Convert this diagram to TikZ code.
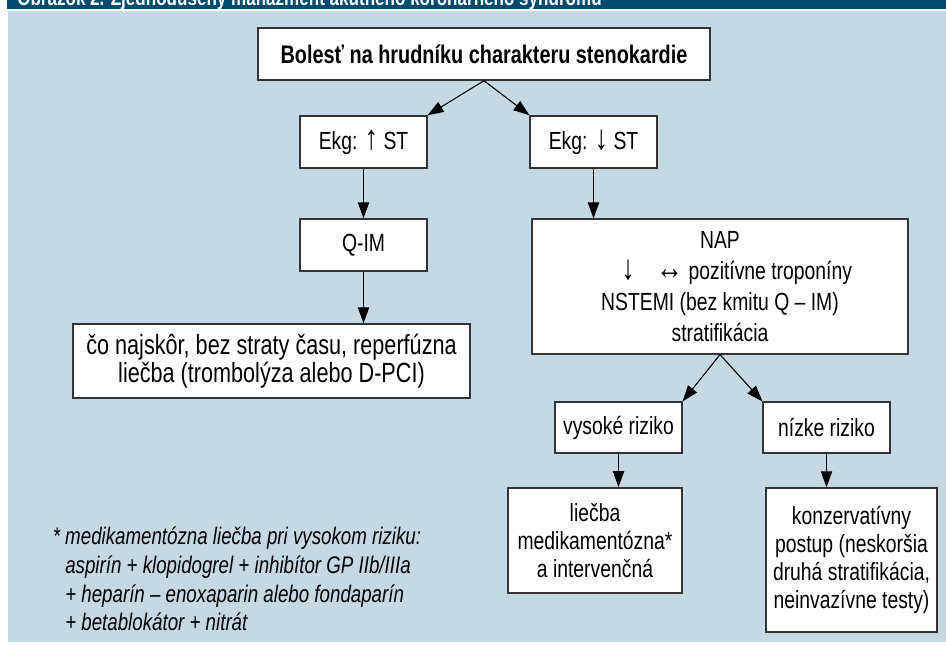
\documentclass[tikz,border=0pt]{standalone}
\usepackage{fontspec}
\setmainfont[FakeStretch=0.78]{Liberation Sans}
\usepackage{xcolor}
\usetikzlibrary{arrows.meta}

\definecolor{pasmo}{RGB}{0,74,110}
\definecolor{podklad}{RGB}{197,217,228}
\newcommand{\sipka}[1]{{\fontsize{26}{21}\selectfont #1}}

\begin{document}
\begin{tikzpicture}[x=0.75pt,y=-0.75pt,
    box/.style={rectangle,draw=black!80,line width=1.1pt,fill=white,align=center,inner sep=2pt,font=\fontsize{18.6}{21}\selectfont},
    link/.style={-{Triangle[length=12pt,width=8.5pt]},line width=0.8pt}]
        \useasboundingbox (0,0) rectangle (946,646);
        % pozadie
        \fill[pasmo] (7,0) rectangle (946,9);
        \fill[podklad] (8,11) rectangle (946,642);
        \begin{scope}
            \clip (7,0) rectangle (946,9);
            \node[anchor=base west,inner sep=0pt,text=white,font=\bfseries\fontsize{16.4}{18}\selectfont] (nadpis) at (17,5) {Obrázok 2. Zjednodušený manažment akútneho koronárneho syndrómu};
        \end{scope}

        \node[box,minimum width=339pt,minimum height=39pt,font=\bfseries\fontsize{19.1}{21}\selectfont] (bolest) at (484,54) {Bolesť na hrudníku charakteru stenokardie};

        \node[box,minimum width=95pt,minimum height=39pt] (ekgup) at (363.5,142) {Ekg: \sipka{↑} ST};
        \node[box,minimum width=95pt,minimum height=39pt] (ekgdown) at (593.5,142) {Ekg: \sipka{↓} ST};

        \node[box,minimum width=95pt,minimum height=39pt] (qim) at (363.5,245) {Q-IM};
        \node[box,minimum width=298pt,minimum height=55.5pt,font=\fontsize{20.8}{21}\selectfont] (reperf) at (271.5,361) {čo najskôr, bez straty času, reperfúzna\\liečba (trombolýza alebo D-PCI)};

        \node[box,minimum width=282pt,minimum height=101pt,font=\fontsize{18.6}{23.25}\selectfont] (nap) at (720,286.5) {NAP\\\hspace*{25pt}\sipka{↓}\hspace{16pt}\sipka{↔} pozitívne troponíny\\NSTEMI (bez kmitu Q – IM)\\stratifikácia};

        \node[box,minimum width=95pt,minimum height=38pt] (vysoke) at (618.5,427.5) {vysoké riziko};
        \node[box,minimum width=95pt,minimum height=38pt] (nizke) at (826.5,427.5) {nízke riziko};

        \node[box,minimum width=130.5pt,minimum height=79pt] (liecba) at (595,540.5) {liečba\\medikamentózna*\\a intervenčná};
        \node[box,minimum width=128pt,minimum height=108pt] (konz) at (851.5,560) {konzervatívny\\postup (neskoršia\\druhá stratifikácia,\\neinvazívne testy)};

        % poznamka
        \node[anchor=west,align=left,inner sep=0pt,font=\itshape\fontsize{18}{21.5}\selectfont] (pozn) at (65,579) {\llap{*\ }medikamentózna liečba pri vysokom riziku:\\aspirín + klopidogrel + inhibítor GP IIb/IIIa\\+ heparín – enoxaparin alebo fondaparín\\+ betablokátor + nitrát};

        % sipky
        \draw[link] (bolest.south) -- (ekgup.north east);
        \draw[link] (bolest.south) -- (ekgdown.north west);
        \draw[link] (ekgup.south) -- (qim.north);
        \draw[link] (qim.south) -- (qim.south |- reperf.north);
        \draw[link] (ekgdown.south) -- (ekgdown.south |- nap.north);
        \draw[link] (nap.south) -- (vysoke.north east);
        \draw[link] (nap.south) -- (nizke.north west);
        \draw[link] (vysoke.south) -- (vysoke.south |- liecba.north);
        \draw[link] (nizke.south) -- (nizke.south |- konz.north);
\end{tikzpicture}
\end{document}
